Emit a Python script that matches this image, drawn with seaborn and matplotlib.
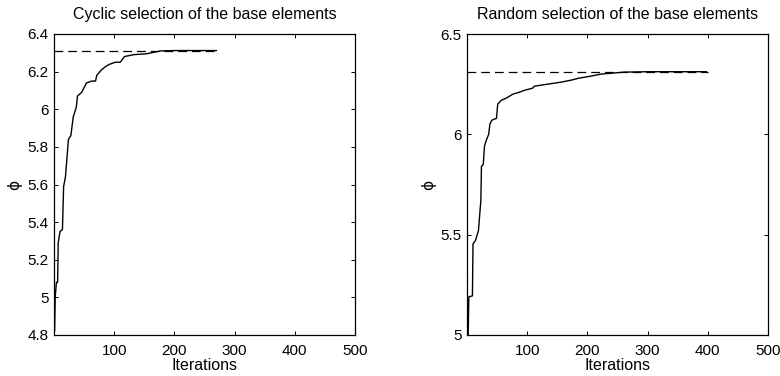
import matplotlib
matplotlib.use("Agg")
import matplotlib.pyplot as plt
import seaborn as sns
import pandas as pd

# ---- data ----
cyc_x = [1, 2, 4, 6, 7, 10, 14, 16, 19, 24, 28, 32, 37, 39, 46, 54, 63, 69, 71,
         79, 87, 93, 102, 110, 117, 132, 154, 177, 199, 270]
cyc_y = [4.82, 5.0, 5.08, 5.08, 5.29, 5.35, 5.36, 5.59, 5.64, 5.84, 5.86, 5.96,
         6.01, 6.07, 6.09, 6.14, 6.15, 6.15, 6.18, 6.21, 6.23, 6.24, 6.25, 6.25,
         6.28, 6.29, 6.295, 6.31, 6.312, 6.312]
cyc_best = 6.312
cyc_range = [0, 270]

rnd_x = [2, 3, 9, 10, 14, 19, 23, 24, 27, 29, 32, 36, 38, 41, 49, 51, 57, 65, 76,
         87, 96, 109, 112, 134, 156, 173, 186, 206, 222, 261, 299, 398]
rnd_y = [5.0, 5.19, 5.195, 5.455, 5.47, 5.52, 5.67, 5.84, 5.85, 5.94, 5.97, 6.0,
         6.05, 6.07, 6.08, 6.15, 6.17, 6.18, 6.2, 6.21, 6.22, 6.23, 6.24, 6.25,
         6.26, 6.27, 6.28, 6.29, 6.3, 6.31, 6.312, 6.312]
rnd_best = 6.312
rnd_range = [0, 400]

titles = ["Cyclic selection of the base elements",
          "Random selection of the base elements"]
xticks = [100, 200, 300, 400, 500]
cyc_yticks = [4.8, 5, 5.2, 5.4, 5.6, 5.8, 6, 6.2, 6.4]
cyc_ylabels = ["4.8", "5", "5.2", "5.4", "5.6", "5.8", "6", "6.2", "6.4"]
rnd_yticks = [5, 5.5, 6, 6.5]
rnd_ylabels = ["5", "5.5", "6", "6.5"]

sns.set_theme(style="white")
plt.rcParams['font.family'] = ['Liberation Sans', 'DejaVu Sans']
plt.rcParams['text.color'] = 'black'
plt.rcParams['axes.labelcolor'] = 'black'

fig = plt.figure(figsize=(7.8, 3.76), dpi=100)
W, H = 780, 376
ax1 = fig.add_axes([54 / W, (H - 335) / H, 301 / W, 301 / H])
ax2 = fig.add_axes([467 / W, (H - 335) / H, 301 / W, 301 / H])

panels = [
    (ax1, cyc_x, cyc_y, cyc_best, cyc_range, (4.8, 6.4), cyc_yticks, cyc_ylabels, titles[0], -32),
    (ax2, rnd_x, rnd_y, rnd_best, rnd_range, (5.0, 6.5), rnd_yticks, rnd_ylabels, titles[1], -31),
]

for ax, xs, ys, best, rng, ylim, yt, yl, title, ylpad in panels:
    df = pd.DataFrame({"x": xs, "y": ys})
    sns.lineplot(data=df, x="x", y="y", ax=ax, color="black", linewidth=1.0,
                 sort=False, estimator=None)
    dfb = pd.DataFrame({"x": rng, "y": [best, best]})
    sns.lineplot(data=dfb, x="x", y="y", ax=ax, color="black", linewidth=0.9,
                 linestyle=(0, (7, 4)), sort=False, estimator=None)
    ax.set_xlim(0, 500)
    ax.set_ylim(*ylim)
    ax.set_xticks(xticks)
    ax.set_xticklabels([str(t) for t in xticks])
    ax.set_yticks(yt)
    ax.set_yticklabels(yl)
    ax.tick_params(direction="in", length=3, width=0.7, top=True, right=True,
                   bottom=True, left=True, labelsize=11, colors="black")
    ax.tick_params(axis="x", pad=6.5)
    ax.tick_params(axis="y", pad=4)
    for s in ax.spines.values():
        s.set_visible(True)
        s.set_color("black")
        s.set_linewidth(0.9)
    ax.set_title(title, fontsize=11.5, pad=11, color="black")
    ax.set_xlabel("Iterations", fontsize=11.5, labelpad=0)
    ax.set_ylabel("\u03d5", fontsize=11, family=['DejaVu Sans'])
    ax.yaxis.set_label_coords(ylpad / 301, 0.5)
    ax.grid(False)

fig.savefig("out.png", dpi=100)
